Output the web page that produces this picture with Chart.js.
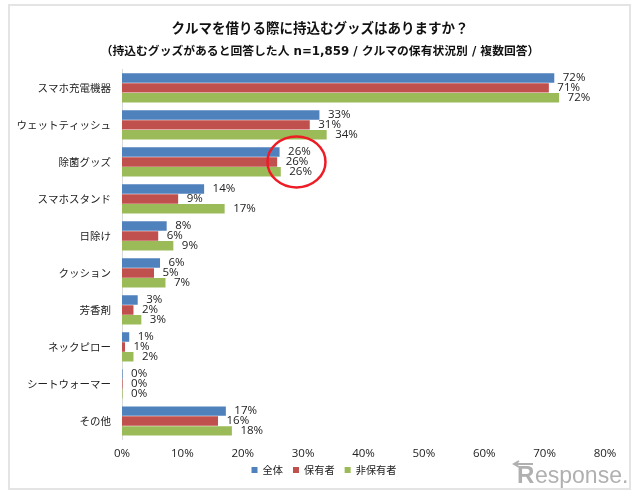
<!DOCTYPE html>
<html>
<head>
<meta charset="utf-8">
<script src="https://cdn.jsdelivr.net/npm/chart.js@4"></script>
<style>
  html, body { margin: 0; padding: 0; background: #ffffff; }
  #wrap { position: relative; width: 640px; height: 495px; }
</style>
</head>
<body>
<div id="wrap"><canvas id="chart" width="640" height="495"></canvas></div>
<script>
const categories = ['スマホ充電機器', 'ウェットティッシュ', '除菌グッズ', 'スマホスタンド', '日除け', 'クッション', '芳香剤', 'ネックピロー', 'シートウォーマー', 'その他'];
// 表示ラベル(四捨五入後)
const allValues = [72, 33, 26, 14, 8, 6, 3, 1, 0, 17];
const ownerValues = [71, 31, 26, 9, 6, 5, 2, 1, 0, 16];
const nonOwnerValues = [72, 34, 26, 17, 9, 7, 3, 2, 0, 18];
// バーの長さ
const barAll = [71.6, 32.7, 26.1, 13.6, 7.4, 6.3, 2.6, 1.2, 0.1, 17.2];
const barOwner = [70.7, 31.1, 25.7, 9.3, 6.0, 5.3, 1.9, 0.5, 0.1, 15.9];
const barNonOwner = [72.4, 33.9, 26.3, 17.0, 8.5, 7.2, 3.2, 1.9, 0.1, 18.2];
const seriesNames = ['全体', '保有者', '非保有者'];
const seriesColors = ['#4f81bd', '#c0504d', '#9bbb59'];
const title = 'クルマを借りる際に持込むグッズはありますか？';
const subtitle = '（持込むグッズがあると回答した人 n=1,859 / クルマの保有状況別 / 複数回答）';
const cjkFont = '"Noto Sans CJK JP", sans-serif';
const latinFont = '"Open Sans", sans-serif';

// 額縁
const framePlugin = {
    id: 'frame',
    beforeDraw(chart) {
        const ctx = chart.ctx;
        ctx.save();
        ctx.fillStyle = '#ffffff';
        ctx.fillRect(0, 0, 640, 495);
        ctx.strokeStyle = '#e4e4e4';
        ctx.lineWidth = 2;
        ctx.strokeRect(9, 5, 621, 484);
        ctx.restore();
    }
};

// レイアウト後の微調整: 凡例の位置とY軸ラベルのクリップ範囲
const layoutTweaks = {
    id: 'layoutTweaks',
    afterLayout(chart) {
        const legend = chart.legend;
        legend.left += 4;
        legend.right += 4;
        legend.top -= 6;
        legend.bottom -= 6;
        chart.scales.y.left = 0;
    }
};

// 値ラベル
const valueLabels = {
    id: 'valueLabels',
    afterDatasetsDraw(chart) {
        const ctx = chart.ctx;
        const shown = [allValues, ownerValues, nonOwnerValues];
        ctx.save();
        ctx.font = '11.5px ' + latinFont;
        ctx.fillStyle = '#222222';
        ctx.textBaseline = 'middle';
        chart.data.datasets.forEach((ds, i) => {
            chart.getDatasetMeta(i).data.forEach((bar, j) => {
                ctx.fillText(shown[i][j] + '%', bar.x + 8.5, bar.y);
            });
        });
        ctx.restore();
    }
};

// 除菌グッズの赤丸
const redCircle = {
    id: 'redCircle',
    afterDraw(chart) {
        const ctx = chart.ctx;
        const x = chart.scales.x.getPixelForValue(28.9);
        const y = chart.scales.y.getPixelForValue(2);
        ctx.save();
        ctx.strokeStyle = '#ee1c25';
        ctx.lineWidth = 2.5;
        ctx.beginPath();
        ctx.ellipse(x, y, 29, 25.5, 0, 0, Math.PI * 2);
        ctx.stroke();
        ctx.restore();
    }
};

// ロゴ
const logo = {
    id: 'logo',
    afterDraw(chart) {
        const ctx = chart.ctx;
        ctx.save();
        ctx.fillStyle = '#b0b0b0';
        ctx.strokeStyle = '#b0b0b0';
        ctx.textAlign = 'left';
        ctx.textBaseline = 'alphabetic';
        ctx.font = 'bold 24px "Liberation Sans", sans-serif';
        ctx.fillText('R', 517, 483);
        ctx.font = '23px "Liberation Sans", sans-serif';
        ctx.fillText('esponse.', 535, 483);
        ctx.lineWidth = 2;
        ctx.beginPath();
        ctx.moveTo(533, 464);
        ctx.lineTo(515, 464);
        ctx.moveTo(519, 461);
        ctx.lineTo(514, 464);
        ctx.lineTo(519, 467);
        ctx.stroke();
        ctx.restore();
    }
};

new Chart(document.getElementById('chart').getContext('2d'), {
    type: 'bar',
    data: {
        labels: categories,
        datasets: [
            { label: seriesNames[0], data: barAll, backgroundColor: seriesColors[0] },
            { label: seriesNames[1], data: barOwner, backgroundColor: seriesColors[1] },
            { label: seriesNames[2], data: barNonOwner, backgroundColor: seriesColors[2] }
        ]
    },
    options: {
        indexAxis: 'y',
        responsive: false,
        animation: false,
        layout: { padding: { left: 35, right: 35, top: 0, bottom: 3.8 } },
        datasets: { bar: { categoryPercentage: 0.8, barPercentage: 0.96 } },
        scales: {
            x: {
                min: 0,
                max: 80,
                afterFit: scale => { scale.height = 21.5; },
                ticks: { stepSize: 10, padding: 7.5, maxRotation: 0, color: '#222222', font: { family: latinFont, size: 11.5 }, callback: v => v + '%' },
                grid: { display: false, drawTicks: false },
                border: { display: false }
            },
            y: {
                afterFit: scale => { scale.width = 87; },
                ticks: { color: '#222222', padding: 11, font: { family: cjkFont, size: 10.5 } },
                grid: { display: false, drawTicks: false },
                border: { display: true, color: '#d9d9d9' }
            }
        },
        plugins: {
            title: {
                display: true,
                text: title,
                color: '#111111',
                font: { family: cjkFont, size: 13.5, weight: 'bold' },
                padding: { top: 20, bottom: 0 }
            },
            subtitle: {
                display: true,
                text: subtitle,
                color: '#111111',
                font: { family: '"DejaVu Sans", ' + cjkFont, size: 11.8, weight: 'bold' },
                padding: { top: 9, bottom: 10 }
            },
            legend: {
                position: 'bottom',
                labels: { boxWidth: 6, boxHeight: 6, padding: 10, color: '#222222', font: { family: cjkFont, size: 10.2 } }
            },
            tooltip: { enabled: false }
        }
    },
    plugins: [framePlugin, layoutTweaks, valueLabels, redCircle, logo]
});
</script>
</body>
</html>
